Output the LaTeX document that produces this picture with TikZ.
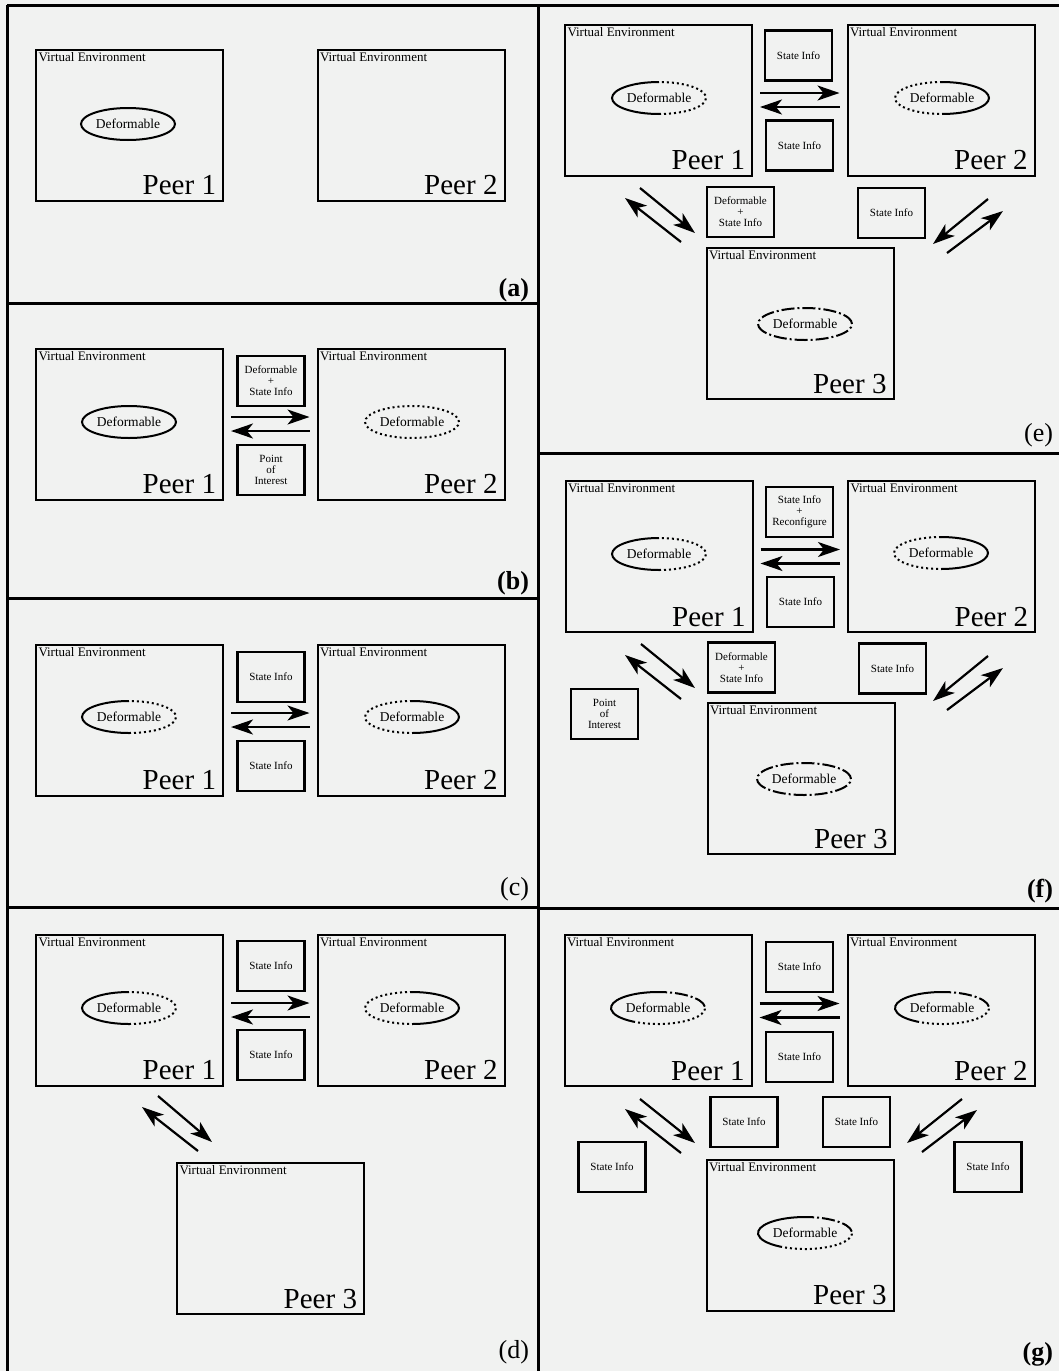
\documentclass[tikz,border=0pt]{standalone}
\usepackage{fontspec}
\setmainfont{Liberation Serif}
\usetikzlibrary{shapes.geometric,arrows.meta}

\definecolor{paper}{RGB}{241,242,241}

\tikzstyle{every node}=[inner sep=1pt, outer sep=0pt]
\tikzstyle{panelline}=[line width=3pt]
\tikzstyle{venv}=[anchor=north west, inner sep=2.5pt, font={\fontsize{13}{13}\selectfont}]
\tikzstyle{peernum}=[anchor=base east, xshift=-7pt, yshift=6pt, inner sep=0pt, font={\fontsize{29}{29}\selectfont}]
\tikzstyle{info}=[draw, line width=2.2pt, minimum width=67pt, minimum height=50pt, align=center, font={\fontsize{11}{11}\selectfont}]
\tikzstyle{deform}=[ellipse, minimum width=94pt, minimum height=32pt, inner sep=0pt, font={\fontsize{13.5}{13.5}\selectfont}]
\tikzstyle{rim}=[line width=2pt]
\tikzstyle{dots}=[rim, dash pattern=on 2pt off 3pt]
\tikzstyle{dashdots}=[rim, dash pattern=on 13pt off 3pt on 2pt off 3pt]
\tikzstyle{arr}=[line width=2.2pt, -{Stealth[length=22pt, width=15pt, inset=6pt]}]
\tikzstyle{hl}=[arr, shorten <=8pt, shorten >=8pt]
\tikzstyle{sublabel}=[anchor=base east, inner sep=0pt, font={\fontsize{26}{26}\selectfont}]
\tikzset{peer/.style={draw, line width=2pt, minimum width=187pt, minimum height=151pt,
    label={[venv]north west:Virtual Environment},
    label={[peernum]south east:Peer #1}}}

\newcommand{\defarc}[4]{%
  \draw[#4] (#1.center) ++(#2:47pt and 16pt)
    arc[start angle=#2, end angle=#3, x radius=47pt, y radius=16pt];}

\begin{document}
\begin{tikzpicture}[x=1pt, y=-1pt]
    \useasboundingbox (0,0) rectangle (1059,1371);
    \fill[paper] (0,0) rectangle (1059,1371);
    \draw[panelline] (7,5) -- (1059,5);
    \draw[panelline] (7,5) -- (7,1371);
    \draw[panelline] (538,5) -- (538,1371);
    \draw[panelline] (7,303) -- (538,303);
    \draw[panelline] (7,598) -- (538,598);
    \draw[panelline] (7,907) -- (538,907);
    \draw[panelline] (538,453) -- (1059,453);
    \draw[panelline] (538,908) -- (1059,908);

    \node[peer=1] (a1) at (129.5,125) {};
    \node[peer=2] (a2) at (411,125) {};
    \node[deform, draw, rim] (a1d) at (128,124) {Deformable};
    \node[sublabel] (al) at (529,296) {\bfseries (a)};

    \node[peer=1] (b1) at (129.5,424) {};
    \node[peer=2] (b2) at (411,424) {};
    \node[info] (b3) at (271,381) {Deformable\\+\\State Info};
    \node[info] (b4) at (271,470) {Point\\of\\Interest};
    \node[deform, draw, rim] (b1d) at (129,422) {Deformable};
    \node[deform, draw, dots] (b2d) at (412,422) {Deformable};
    \draw[hl] ([yshift=7pt]b1.east) -- ([yshift=7pt]b2.west);
    \draw[hl] ([yshift=-7pt]b2.west) -- ([yshift=-7pt]b1.east);
    \node[sublabel] (bl) at (529,589) {\bfseries (b)};

    \node[peer=1] (c1) at (129.5,720) {};
    \node[peer=2] (c2) at (411,720) {};
    \node[info] (c3) at (271,677) {State Info};
    \node[info] (c4) at (271,766) {State Info};
    \node[deform] (c1d) at (129,717) {Deformable};
    \node[deform] (c2d) at (412,717) {Deformable};
    \defarc{c1d}{90}{270}{rim}
    \defarc{c1d}{-90}{90}{dots}
    \defarc{c2d}{90}{270}{dots}
    \defarc{c2d}{-90}{90}{rim}
    \draw[hl] ([yshift=7pt]c1.east) -- ([yshift=7pt]c2.west);
    \draw[hl] ([yshift=-7pt]c2.west) -- ([yshift=-7pt]c1.east);
    \node[sublabel] (cl) at (529,895) {(c)};

    \node[peer=1] (d1) at (129.5,1010) {};
    \node[peer=2] (d2) at (411,1010) {};
    \node[info] (d3) at (271,966) {State Info};
    \node[info] (d4) at (271,1055) {State Info};
    \node[deform] (d1d) at (129,1008) {Deformable};
    \node[deform] (d2d) at (412,1008) {Deformable};
    \defarc{d1d}{90}{270}{rim}
    \defarc{d1d}{-90}{90}{dots}
    \defarc{d2d}{90}{270}{dots}
    \defarc{d2d}{-90}{90}{rim}
    \draw[hl] ([yshift=7pt]d1.east) -- ([yshift=7pt]d2.west);
    \draw[hl] ([yshift=-7pt]d2.west) -- ([yshift=-7pt]d1.east);
    \node[peer=3] (d5) at (270.5,1238.5) {};
    \coordinate (d6) at (158,1096);
    \coordinate (d7) at (212,1142);
    \coordinate (d8) at (198,1151);
    \coordinate (d9) at (142,1107);
    \draw[arr] (d6) -- (d7);
    \draw[arr] (d8) -- (d9);
    \node[sublabel] (dl) at (529,1358) {(d)};

    \node[peer=1] (e1) at (658.5,100) {};
    \node[peer=2] (e2) at (941,100) {};
    \node[info] (e3) at (798.5,55.5) {State Info};
    \node[info] (e4) at (799.5,145.5) {State Info};
    \node[deform] (e1d) at (659,98) {Deformable};
    \node[deform] (e2d) at (942,98) {Deformable};
    \defarc{e1d}{90}{270}{rim}
    \defarc{e1d}{-90}{90}{dots}
    \defarc{e2d}{90}{270}{dots}
    \defarc{e2d}{-90}{90}{rim}
    \draw[hl] ([yshift=7pt]e1.east) -- ([yshift=7pt]e2.west);
    \draw[hl] ([yshift=-7pt]e2.west) -- ([yshift=-7pt]e1.east);
    \node[info] (e5) at (740.5,212) {Deformable\\+\\State Info};
    \node[info] (e6) at (891.5,213) {State Info};
    \node[peer=3] (e7) at (800,323.5) {};
    \node[deform, draw, dashdots] (e7d) at (805,324) {Deformable};
    \coordinate (e8) at (640,188);
    \coordinate (e9) at (695,233);
    \coordinate (e10) at (681,242);
    \coordinate (e11) at (625,198);
    \coordinate (e12) at (988,199);
    \coordinate (e13) at (933,244);
    \coordinate (e14) at (947,253);
    \coordinate (e15) at (1003,211);
    \draw[arr] (e8) -- (e9);
    \draw[arr] (e10) -- (e11);
    \draw[arr] (e12) -- (e13);
    \draw[arr] (e14) -- (e15);
    \node[sublabel] (el) at (1053,441) {(e)};

    \node[peer=1] (f1) at (659,556.5) {};
    \node[peer=2] (f2) at (941.5,556.5) {};
    \node[info] (f3) at (799.5,512) {State Info\\+\\Reconfigure};
    \node[info] (f4) at (800.5,602) {State Info};
    \node[deform] (f1d) at (659,554) {Deformable};
    \node[deform] (f2d) at (941,553) {Deformable};
    \defarc{f1d}{90}{270}{rim}
    \defarc{f1d}{-90}{90}{dots}
    \defarc{f2d}{90}{270}{dots}
    \defarc{f2d}{-90}{90}{rim}
    \draw[hl] ([yshift=7pt]f1.east) -- ([yshift=7pt]f2.west);
    \draw[hl] ([yshift=-7pt]f2.west) -- ([yshift=-7pt]f1.east);
    \node[info] (f5) at (741.5,667.5) {Deformable\\+\\State Info};
    \node[info] (f6) at (892.5,668.5) {State Info};
    \node[info] (f7) at (604.5,714) {Point\\of\\Interest};
    \node[peer=3] (f8) at (801,778.5) {};
    \node[deform, draw, dashdots] (f8d) at (804,779) {Deformable};
    \coordinate (f9) at (641,644);
    \coordinate (f10) at (695,688);
    \coordinate (f11) at (681,699);
    \coordinate (f12) at (625,655);
    \coordinate (f13) at (988,656);
    \coordinate (f14) at (933,701);
    \coordinate (f15) at (947,710);
    \coordinate (f16) at (1003,668);
    \draw[arr] (f9) -- (f10);
    \draw[arr] (f11) -- (f12);
    \draw[arr] (f13) -- (f14);
    \draw[arr] (f15) -- (f16);
    \node[sublabel] (fl) at (1053,897) {\bfseries (f)};

    \node[peer=1] (g1) at (658,1010.5) {};
    \node[peer=2] (g2) at (941,1010.5) {};
    \node[info] (g3) at (799.5,967) {State Info};
    \node[info] (g4) at (799.5,1057) {State Info};
    \node[deform] (g1d) at (658,1008) {Deformable};
    \node[deform] (g2d) at (942,1008) {Deformable};
    \defarc{g1d}{95}{238}{rim}
    \defarc{g1d}{238}{365}{dots}
    \defarc{g1d}{5}{95}{dashdots}
    \defarc{g2d}{95}{238}{rim}
    \defarc{g2d}{238}{365}{dots}
    \defarc{g2d}{5}{95}{dashdots}
    \draw[hl] ([yshift=7pt]g1.east) -- ([yshift=7pt]g2.west);
    \draw[hl] ([yshift=-7pt]g2.west) -- ([yshift=-7pt]g1.east);
    \node[info] (g5) at (744,1122) {State Info};
    \node[info] (g6) at (856.5,1122) {State Info};
    \node[info] (g7) at (612,1167) {State Info};
    \node[info] (g8) at (988,1167) {State Info};
    \node[peer=3] (g9) at (800,1235) {};
    \node[deform] (g9d) at (805,1233) {Deformable};
    \defarc{g9d}{95}{238}{rim}
    \defarc{g9d}{238}{365}{dots}
    \defarc{g9d}{5}{95}{dashdots}
    \coordinate (g10) at (640,1099);
    \coordinate (g11) at (695,1143);
    \coordinate (g12) at (681,1153);
    \coordinate (g13) at (625,1109);
    \coordinate (g14) at (962,1099);
    \coordinate (g15) at (907,1143);
    \coordinate (g16) at (922,1152);
    \coordinate (g17) at (977,1110);
    \draw[arr] (g10) -- (g11);
    \draw[arr] (g12) -- (g13);
    \draw[arr] (g14) -- (g15);
    \draw[arr] (g16) -- (g17);
    \node[sublabel] (gl) at (1053,1360) {\bfseries (g)};
\end{tikzpicture}
\end{document}
